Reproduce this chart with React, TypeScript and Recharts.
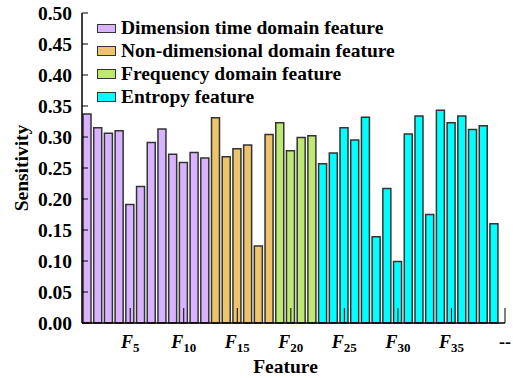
import React from 'react';
import { BarChart, Bar, XAxis, YAxis, Cell, Legend } from 'recharts';

const dimensionTime = [0.337, 0.315, 0.306, 0.31, 0.191, 0.22, 0.291, 0.313, 0.272, 0.259, 0.275, 0.266];
const nonDimensional = [0.331, 0.268, 0.281, 0.287, 0.124, 0.304];
const frequency = [0.323, 0.278, 0.299, 0.302];
const entropy = [0.257, 0.274, 0.315, 0.295, 0.332, 0.139, 0.217, 0.099, 0.305, 0.334, 0.175, 0.343, 0.323, 0.334, 0.312, 0.318, 0.16];

const groupNames = [
  'Dimension time domain feature',
  'Non-dimensional domain feature',
  'Frequency domain feature',
  'Entropy feature',
];
const groupColors = ['#D9B3FF', '#EBC46B', '#BDE872', '#00FFFF'];
const groupValues = [dimensionTime, nonDimensional, frequency, entropy];

const featureTicks = [5, 10, 15, 20, 25, 30, 35, 40];
const featureTickLabels = ['5', '10', '15', '20', '25', '30', '35', '--'];
const sensitivityTicks = [0, 0.05, 0.1, 0.15, 0.2, 0.25, 0.3, 0.35, 0.4, 0.45, 0.5];

const data = groupValues
  .flatMap((vals, g) => vals.map((v) => ({ value: v, group: g })))
  .map((d, i) => ({ ...d, feature: i + 1 }));

const FONT = "'Liberation Serif', 'Times New Roman', serif";
const STROKE = '#333';

const FeatureTick = (props: any) => {
  const { x, y, payload } = props;
  const idx = featureTicks.indexOf(payload.value);
  const label = featureTickLabels[idx];
  if (label === '--') {
    return (
      <text x={x} y={y} textAnchor="middle" fontFamily={FONT} fontWeight="bold" fontSize={18} fill="#000">
        --
      </text>
    );
  }
  return (
    <text x={x} y={y} textAnchor="middle" fontFamily={FONT} fontWeight="bold" fill="#000">
      <tspan fontStyle="italic" fontSize={18}>F</tspan>
      <tspan fontSize={13} dy={4}>{label}</tspan>
    </text>
  );
};

const LegendContent = () => (
  <div style={{ fontFamily: FONT, fontWeight: 'bold', fontSize: 19.5, color: '#000' }}>
    {groupNames.map((name, i) => (
      <div key={name} style={{ display: 'flex', alignItems: 'center', height: 22.8, whiteSpace: 'nowrap' }}>
        <span
          style={{
            display: 'inline-block',
            width: 17,
            height: 7.5,
            background: groupColors[i],
            border: `1.5px solid ${STROKE}`,
            marginRight: 5,
          }}
        />
        <span>{name}</span>
      </div>
    ))}
  </div>
);

export default function App() {
  return (
    <div style={{ position: 'absolute', left: 0, top: 0 }}>
      <BarChart width={513} height={378} data={data} margin={{ top: 13, right: 8, bottom: 25, left: 0 }}>
        <Bar dataKey="value" barSize={8} stroke={STROKE} strokeWidth={1.5} isAnimationActive={false}>
          {data.map((d, i) => (
            <Cell key={i} fill={groupColors[d.group]} />
          ))}
        </Bar>
        <XAxis
          dataKey="feature"
          type="number"
          domain={[0.5, 40]}
          allowDataOverflow
          ticks={featureTicks}
          interval={0}
          height={30}
          tickSize={-15}
          tickMargin={40}
          axisLine={{ stroke: '#000', strokeWidth: 1.5 }}
          tickLine={{ stroke: '#000', strokeWidth: 1 }}
          tick={<FeatureTick />}
          label={{
            content: (p: any) => {
              const vb = p.viewBox;
              return (
                <text
                  x={vb.x + vb.width / 2 - 8}
                  y={vb.y + vb.height + 20}
                  textAnchor="middle"
                  fontFamily={FONT}
                  fontWeight="bold"
                  fontSize={19.5}
                  fill="#000"
                >
                  Feature
                </text>
              );
            },
          }}
        />
        <XAxis
          xAxisId="top"
          orientation="top"
          dataKey="feature"
          type="number"
          domain={[0.5, 40]}
          allowDataOverflow
          height={0}
          tick={false}
          tickLine={false}
          axisLine={{ stroke: '#000', strokeWidth: 1.5 }}
        />
        <YAxis
          type="number"
          domain={[0, 0.5]}
          ticks={sensitivityTicks}
          interval={0}
          width={82}
          tickSize={-6}
          tickMargin={16}
          tickFormatter={(v: number) => v.toFixed(2)}
          axisLine={{ stroke: '#000', strokeWidth: 1.5 }}
          tickLine={{ stroke: '#000', strokeWidth: 1 }}
          tick={{ fontFamily: FONT, fontWeight: 'bold', fontSize: 19.5, fill: '#000' }}
          label={{
            content: (p: any) => {
              const vb = p.viewBox;
              const cx = vb.x + 28;
              const cy = vb.y + vb.height / 2;
              return (
                <text
                  transform={`translate(${cx}, ${cy}) rotate(-90)`}
                  textAnchor="middle"
                  fontFamily={FONT}
                  fontWeight="bold"
                  fontSize={19.5}
                  fill="#000"
                >
                  Sensitivity
                </text>
              );
            },
          }}
        />
        <YAxis
          yAxisId="right"
          orientation="right"
          type="number"
          domain={[0, 0.5]}
          width={0}
          tick={false}
          tickLine={false}
          axisLine={{ stroke: '#000', strokeWidth: 1.5 }}
        />
        <Legend
          layout="vertical"
          verticalAlign="middle"
          align="center"
          content={<LegendContent />}
          wrapperStyle={{ left: 97, top: 17, width: 'auto', height: 'auto' }}
        />
      </BarChart>
    </div>
  );
}
